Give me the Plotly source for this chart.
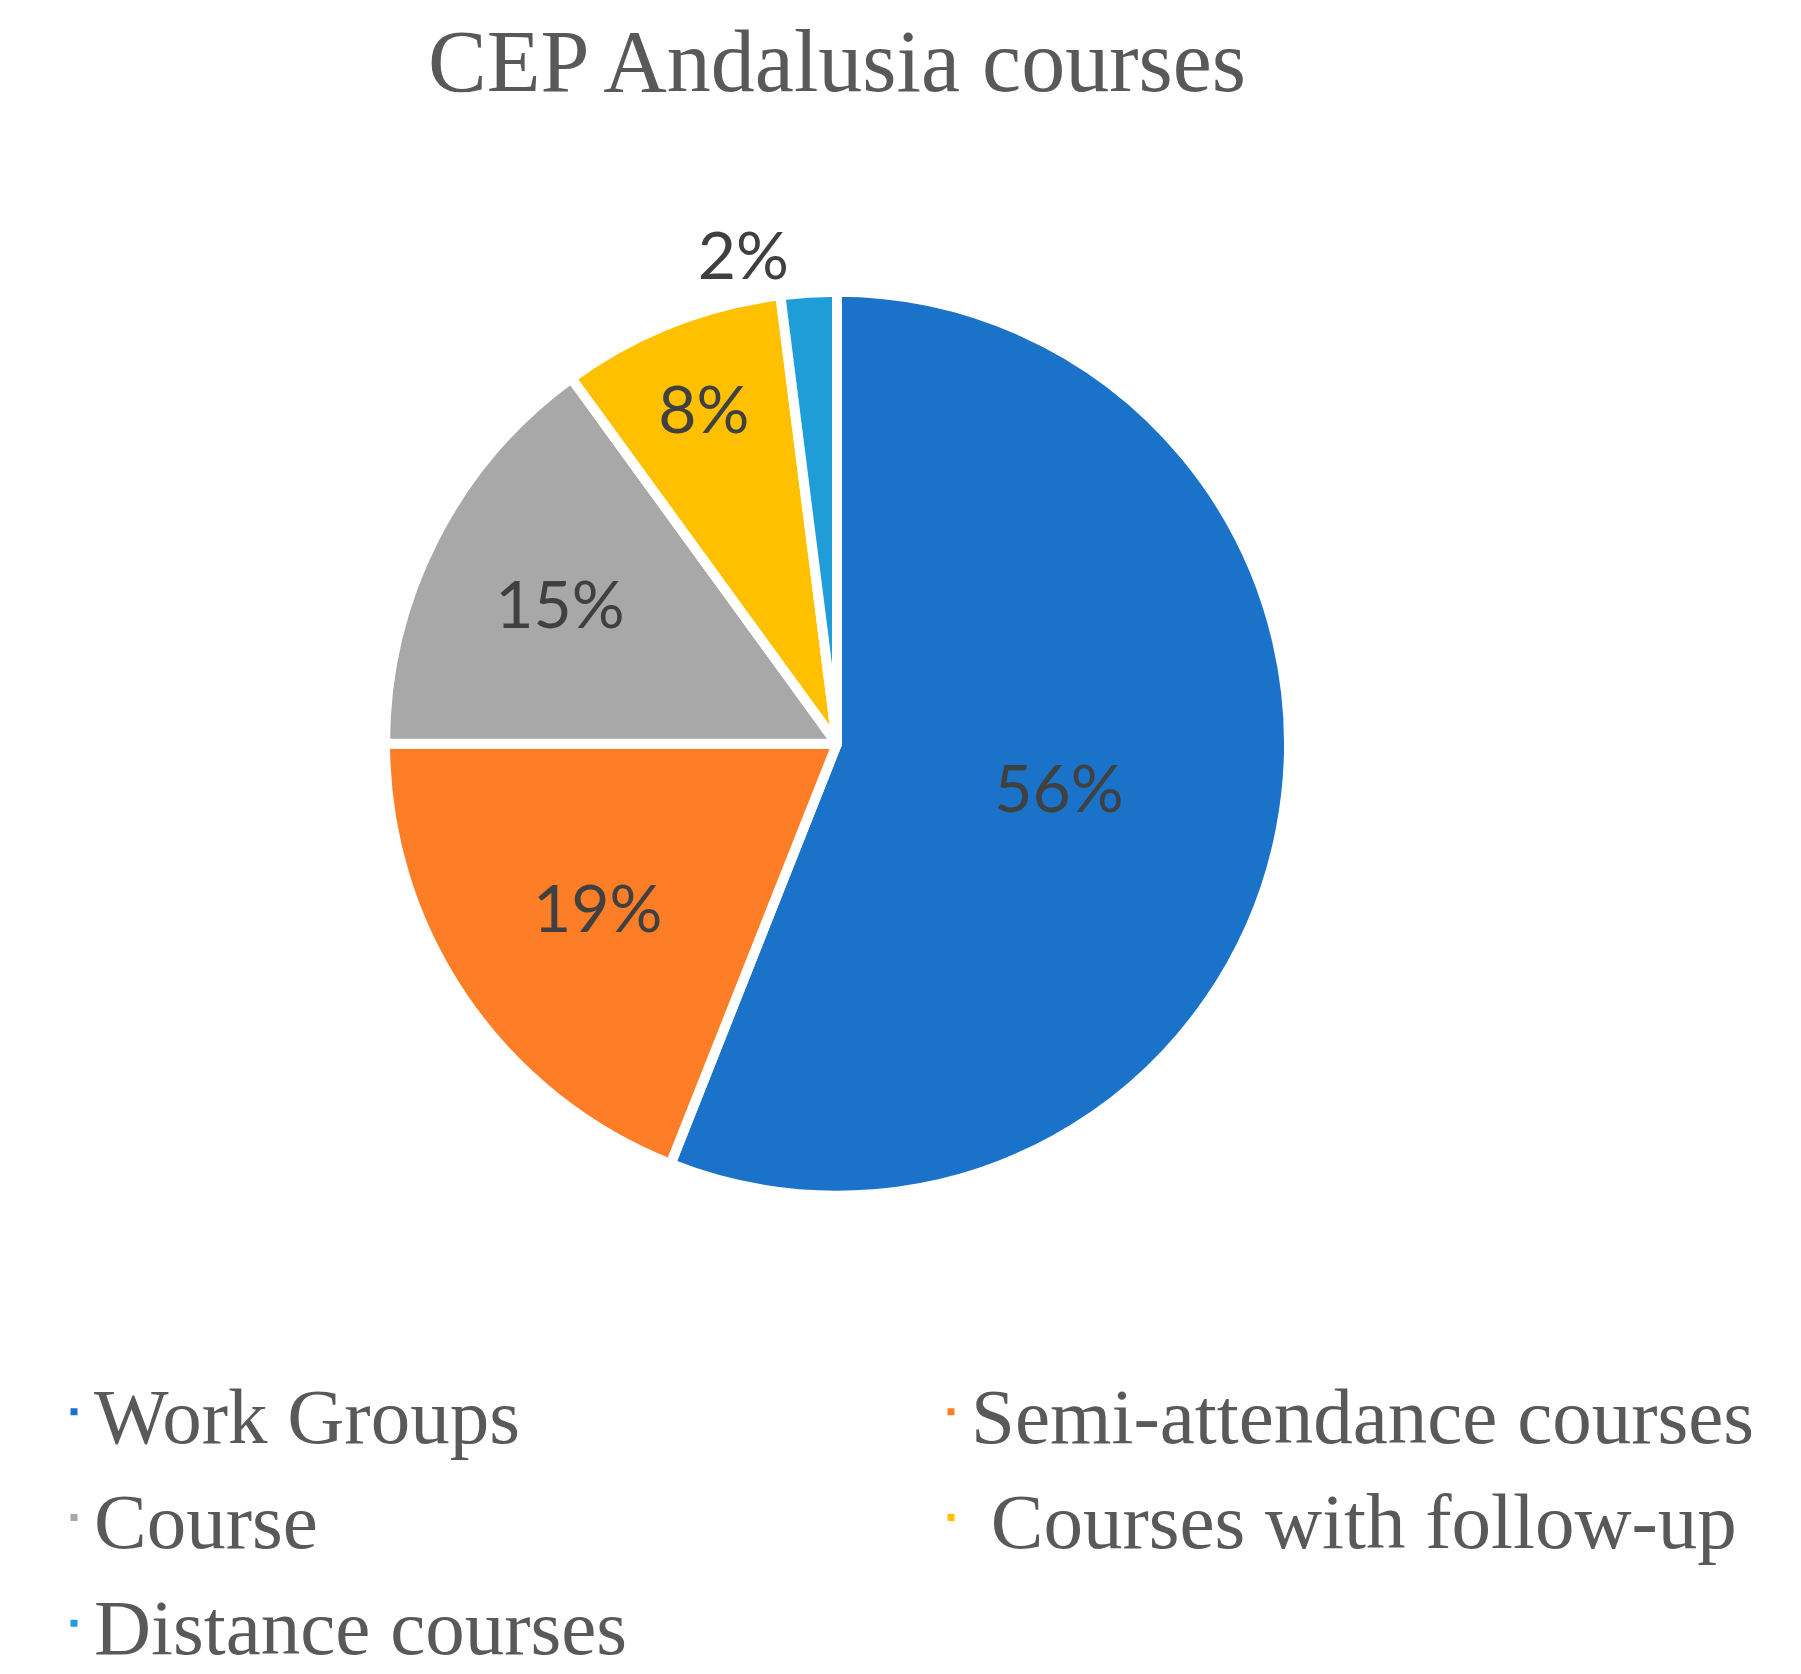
import plotly.graph_objects as go

labels = ["Work Groups", "Semi-attendance courses", "Course", " Courses with follow-up", "Distance courses"]
values = [56, 19, 15, 8, 2]
colors = ["#1A73C8", "#FE7E27", "#A8A8A8", "#FFC000", "#1E9DD8"]
text_positions = ["inside", "inside", "inside", "inside", "outside"]

W, H = 1801, 1674
cx, cy, r = 829, 757, 465

fig = go.Figure()
fig.add_trace(go.Pie(
    labels=labels,
    values=values,
    sort=False,
    direction="clockwise",
    rotation=0,
    marker=dict(colors=colors, line=dict(color="white", width=10)),
    textinfo="percent",
    texttemplate="%{percent:.0%}",
    textposition=text_positions,
    insidetextorientation="horizontal",
    textfont=dict(family="Lato", size=66, color="#404040"),
    domain=dict(x=[(cx - r) / W, (cx + r) / W], y=[(H - cy - r) / H, (H - cy + r) / H]),
    hoverinfo="label+percent",
))

fig.update_layout(
    width=W, height=H,
    margin=dict(l=0, r=0, t=0, b=0),
    paper_bgcolor="white",
    plot_bgcolor="white",
    title=dict(text="CEP Andalusia courses", x=829 / W, xanchor="center", y=1 - 52 / H, yanchor="middle",
               font=dict(family="Liberation Serif", size=88, color="#595959")),
    legend=dict(
        orientation="h",
        x=46 / W, xanchor="left",
        y=1 - 1385 / H, yanchor="top",
        entrywidth=832, entrywidthmode="pixels",
        font=dict(family="Liberation Serif", size=79, color="#595959"),
        traceorder="normal",
    ),
    showlegend=True,
)

fig.write_html("out.html")
